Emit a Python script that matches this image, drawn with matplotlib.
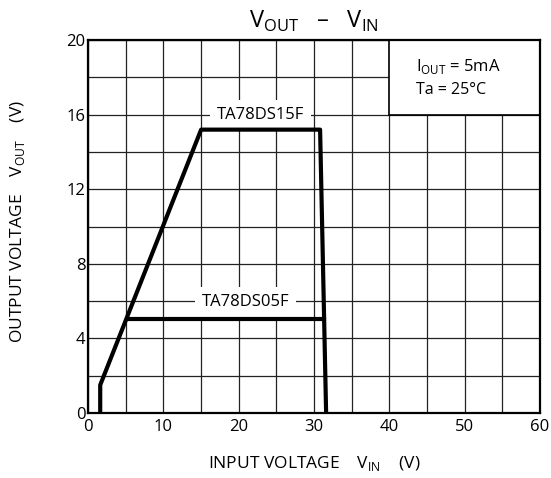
import matplotlib.pyplot as plt
from matplotlib.patches import Rectangle
from matplotlib.ticker import MultipleLocator

plt.rcParams['font.family'] = ['Open Sans', 'DejaVu Sans']
plt.rcParams['mathtext.fontset'] = 'custom'
plt.rcParams['mathtext.rm'] = 'Open Sans'

# TA78DS15F : V_OUT vs V_IN
vin_15 = [1.6, 1.6, 15.0, 30.8, 31.6]
vout_15 = [0.0, 1.5, 15.2, 15.2, 0.0]
# TA78DS05F : plateau (montée et chute partagées avec la 15F)
vin_05 = [5.1, 31.3]
vout_05 = [5.05, 5.05]

fig = plt.figure(figsize=(5.51, 4.78), dpi=100)
ax = fig.add_axes([0.16, 0.136, 0.82, 0.78])

ax.set_xlim(0, 60)
ax.set_ylim(0, 20)
ax.xaxis.set_major_locator(MultipleLocator(10))
ax.xaxis.set_minor_locator(MultipleLocator(5))
ax.yaxis.set_major_locator(MultipleLocator(4))
ax.yaxis.set_minor_locator(MultipleLocator(2))
ax.grid(True, which='both', color='#222222', lw=0.9)
ax.set_axisbelow(True)
ax.tick_params(which='both', length=0, labelsize=12, pad=2)
ax.tick_params(axis='x', pad=4)
for s in ax.spines.values():
    s.set_linewidth(1.6)

ax.plot(vin_15, vout_15, color='black', lw=3, zorder=4)
ax.plot(vin_05, vout_05, color='black', lw=3, zorder=4)

ax.text(22.9, 16.0, 'TA78DS15F', ha='center', va='center', fontsize=12, zorder=3,
        bbox=dict(boxstyle='square,pad=0.4', fc='white', ec='none'))
ax.text(20.9, 5.95, 'TA78DS05F', ha='center', va='center', fontsize=12, zorder=3,
        bbox=dict(boxstyle='square,pad=0.4', fc='white', ec='none'))

# encadré des conditions
ax.add_patch(Rectangle((40, 16), 20, 4, fc='white', ec='black', lw=1.2, zorder=2))
ax.text(43.6, 18.6, r'I$_{\mathrm{OUT}}$ = 5mA', fontsize=12, va='center', zorder=3)
ax.text(43.6, 17.3, 'Ta = 25°C', fontsize=11.5, va='center', zorder=3)

ax.set_title(r'V$_{\mathrm{OUT}}$   –   V$_{\mathrm{IN}}$', fontsize=17, pad=9)
ax.set_xlabel(r'INPUT VOLTAGE    V$_{\mathrm{IN}}$    (V)', fontsize=12.5, labelpad=14)
ax.set_ylabel(r'OUTPUT VOLTAGE    V$_{\mathrm{OUT}}$    (V)', fontsize=12.5)
ax.yaxis.set_label_coords(-0.135, 0.513)

fig.savefig('out.png', dpi=100)
